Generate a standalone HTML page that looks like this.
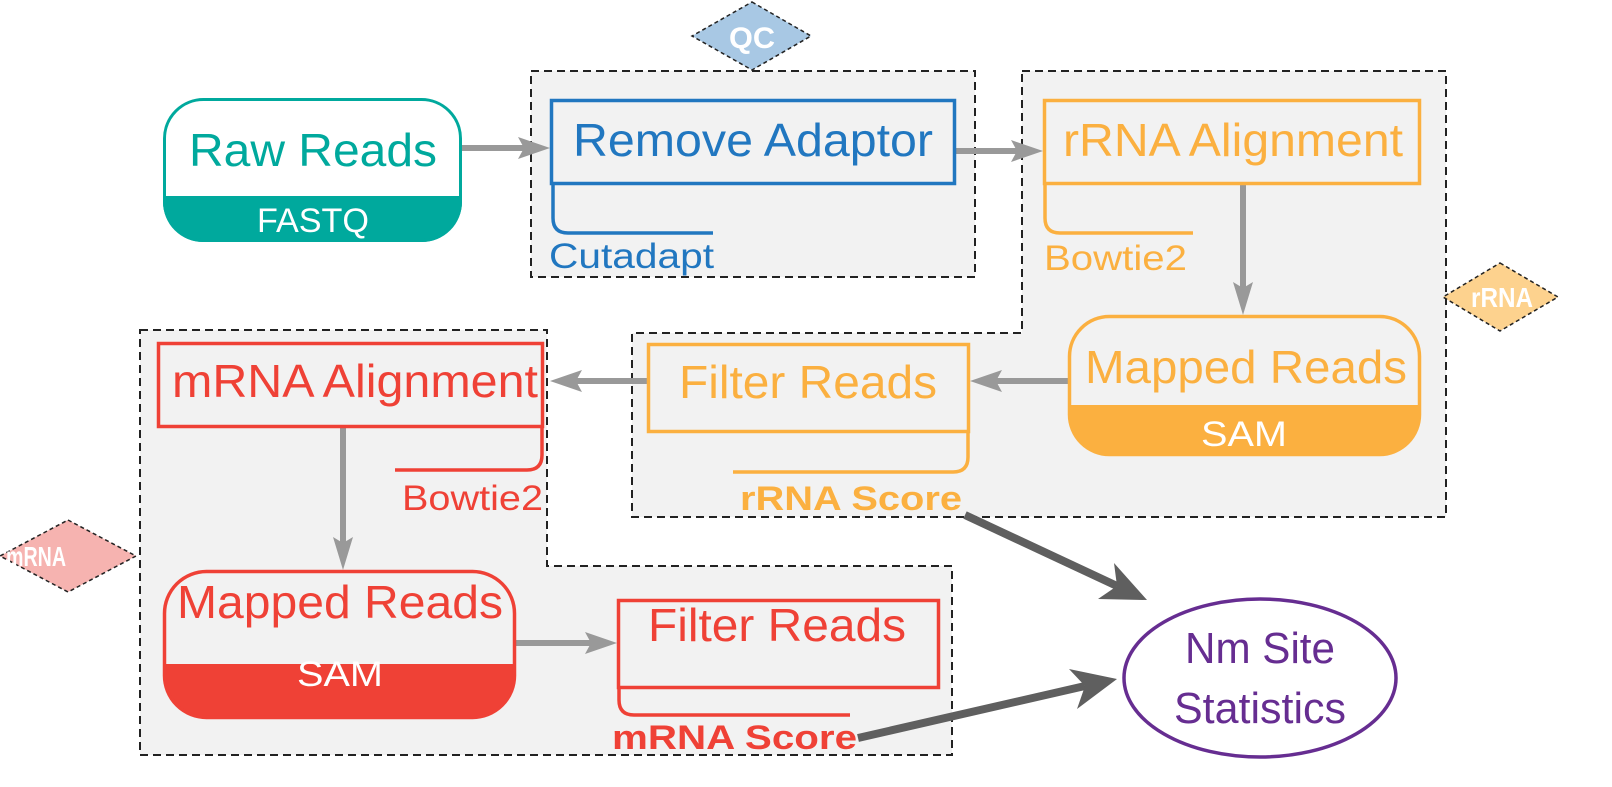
<!DOCTYPE html>
<html><head><meta charset="utf-8"><style>
html,body{margin:0;padding:0;background:#fff;}
svg{display:block;}
text{font-family:"Liberation Sans",sans-serif;}
</style></head><body>
<svg width="1612" height="787" viewBox="0 0 1612 787" xmlns="http://www.w3.org/2000/svg">
<!-- groups -->
<rect x="531" y="71" width="444" height="206" fill="#f2f2f2" stroke="#222" stroke-width="2" stroke-dasharray="8,5"/>
<path d="M1022,71 L1446,71 L1446,517 L632,517 L632,333 L1022,333 Z" fill="#f2f2f2" stroke="#222" stroke-width="2" stroke-dasharray="8,5"/>
<path d="M140,330 L547,330 L547,566 L952,566 L952,755 L140,755 Z" fill="#f2f2f2" stroke="#222" stroke-width="2" stroke-dasharray="8,5"/>
<!-- diamonds -->
<polygon points="752,2 811,36 752,70 692,36" fill="#a8c8e4" stroke="#222" stroke-width="1.5" stroke-dasharray="4,3"/>
<text x="752" y="48" font-size="30" font-weight="bold" fill="#fff" text-anchor="middle" textLength="46" lengthAdjust="spacingAndGlyphs">QC</text>
<polygon points="1500,263 1558,297 1500,331 1443,297" fill="#fdd28e" stroke="#222" stroke-width="1.5" stroke-dasharray="4,3"/>
<text x="1502" y="307" font-size="28" font-weight="bold" fill="#fff" text-anchor="middle" textLength="62" lengthAdjust="spacingAndGlyphs">rRNA</text>
<polygon points="68,520 136,556 68,592 0,556" fill="#f6b3b0" stroke="#222" stroke-width="1.5" stroke-dasharray="4,3"/>
<text x="36" y="566" font-size="28" font-weight="bold" fill="#fff" text-anchor="middle" textLength="60" lengthAdjust="spacingAndGlyphs">mRNA</text>

<!-- gray arrows -->
<g stroke="#999" stroke-width="6" fill="#999">
<line x1="462" y1="148" x2="525" y2="148"/>
<polygon points="550,148 518,137 524,148 518,159" stroke="none"/>
<line x1="955" y1="151" x2="1018" y2="151"/>
<polygon points="1043,151 1011,140 1017,151 1011,162" stroke="none"/>
<line x1="1243" y1="184" x2="1243" y2="290"/>
<polygon points="1243,315 1233,282 1243,288 1253,282" stroke="none"/>
<line x1="1068" y1="381" x2="995" y2="381"/>
<polygon points="970,381 1002,370 996,381 1002,392" stroke="none"/>
<line x1="647" y1="381" x2="575" y2="381"/>
<polygon points="550,381 582,370 576,381 582,392" stroke="none"/>
<line x1="343" y1="427" x2="343" y2="545"/>
<polygon points="343,570 333,537 343,543 353,537" stroke="none"/>
<line x1="515" y1="643" x2="592" y2="643"/>
<polygon points="617,643 585,632 591,643 585,654" stroke="none"/>
</g>

<!-- Raw Reads -->
<path d="M203,98 H422 A40,40 0 0 1 462,138 V196 H163 V138 A40,40 0 0 1 203,98 Z" fill="#fff"/>
<path d="M163,196 H462 V202 A40,40 0 0 1 422,242 H203 A40,40 0 0 1 163,202 Z" fill="#00a99d"/>
<rect x="164.5" y="99.5" width="296" height="141" rx="39" fill="none" stroke="#00a99d" stroke-width="3"/>
<text x="313" y="166" font-size="46" fill="#00a99d" text-anchor="middle" textLength="248" lengthAdjust="spacingAndGlyphs">Raw Reads</text>
<text x="313" y="232" font-size="34" fill="#fff" text-anchor="middle" textLength="112" lengthAdjust="spacingAndGlyphs">FASTQ</text>

<!-- Remove Adaptor -->
<rect x="551.5" y="100.5" width="403" height="83" fill="#f2f2f2" stroke="#2177c0" stroke-width="3.5"/>
<text x="753" y="156" font-size="46" fill="#2177c0" text-anchor="middle" textLength="360" lengthAdjust="spacingAndGlyphs">Remove Adaptor</text>
<path d="M553,185 V218 Q553,233 568,233 H713" fill="none" stroke="#2177c0" stroke-width="3.5"/>
<text x="549" y="268" font-size="35" fill="#2177c0" textLength="165" lengthAdjust="spacingAndGlyphs">Cutadapt</text>

<!-- rRNA Alignment -->
<rect x="1044.5" y="100.5" width="375" height="83" fill="#f2f2f2" stroke="#fbb040" stroke-width="3.5"/>
<text x="1233" y="156" font-size="46" fill="#fbb040" text-anchor="middle" textLength="340" lengthAdjust="spacingAndGlyphs">rRNA Alignment</text>
<path d="M1045,185 V218 Q1045,233 1060,233 H1193" fill="none" stroke="#fbb040" stroke-width="3.5"/>
<text x="1044" y="270" font-size="35" fill="#fbb040" textLength="143" lengthAdjust="spacingAndGlyphs">Bowtie2</text>

<!-- Mapped Reads rRNA -->
<path d="M1110,316 H1380 A40,40 0 0 1 1420,356 V405 H1069 V356 A40,40 0 0 1 1110,316 Z" fill="#f2f2f2"/>
<path d="M1069,405 H1420 V415 A40,40 0 0 1 1380,455 H1110 A40,40 0 0 1 1069,415 Z" fill="#fbb040"/>
<rect x="1069.5" y="316.5" width="350" height="138" rx="40" fill="none" stroke="#fbb040" stroke-width="3.5"/>
<text x="1246" y="383" font-size="46" fill="#fbb040" text-anchor="middle" textLength="322" lengthAdjust="spacingAndGlyphs">Mapped Reads</text>
<text x="1244" y="446" font-size="35" fill="#fff" text-anchor="middle" textLength="86" lengthAdjust="spacingAndGlyphs">SAM</text>

<!-- Filter Reads rRNA -->
<rect x="648.5" y="344.5" width="320" height="87" fill="#f2f2f2" stroke="#fbb040" stroke-width="3.5"/>
<text x="808" y="398" font-size="46" fill="#fbb040" text-anchor="middle" textLength="258" lengthAdjust="spacingAndGlyphs">Filter Reads</text>
<path d="M968,433 V457 Q968,472 953,472 H733" fill="none" stroke="#fbb040" stroke-width="3.5"/>
<text x="740" y="510" font-size="34" font-weight="bold" fill="#fbb040" textLength="222" lengthAdjust="spacingAndGlyphs">rRNA Score</text>

<!-- mRNA Alignment -->
<rect x="158.5" y="343.5" width="384" height="83" fill="#f2f2f2" stroke="#ef4136" stroke-width="3.5"/>
<text x="355" y="397" font-size="46" fill="#ef4136" text-anchor="middle" textLength="366" lengthAdjust="spacingAndGlyphs">mRNA Alignment</text>
<path d="M542,428 V455 Q542,470 527,470 H395" fill="none" stroke="#ef4136" stroke-width="3.5"/>
<text x="402" y="510" font-size="35" fill="#ef4136" textLength="141" lengthAdjust="spacingAndGlyphs">Bowtie2</text>

<!-- Mapped Reads mRNA -->
<path d="M205,571 H473 A42,42 0 0 1 515,613 V664 H164 V613 A42,42 0 0 1 205,571 Z" fill="#f2f2f2"/>
<path d="M164,664 H515 V676 A42,42 0 0 1 473,718 H205 A42,42 0 0 1 164,676 Z" fill="#ef4136"/>
<rect x="164.5" y="571.5" width="350" height="146" rx="42" fill="none" stroke="#ef4136" stroke-width="3.5"/>
<text x="340" y="618" font-size="46" fill="#ef4136" text-anchor="middle" textLength="326" lengthAdjust="spacingAndGlyphs">Mapped Reads</text>
<text x="340" y="686" font-size="35" fill="#fff" text-anchor="middle" textLength="86" lengthAdjust="spacingAndGlyphs">SAM</text>

<!-- Filter Reads mRNA -->
<rect x="618.5" y="600.5" width="320" height="87" fill="#f2f2f2" stroke="#ef4136" stroke-width="3.5"/>
<text x="777" y="641" font-size="46" fill="#ef4136" text-anchor="middle" textLength="258" lengthAdjust="spacingAndGlyphs">Filter Reads</text>
<path d="M619,689 V700 Q619,715 634,715 H850" fill="none" stroke="#ef4136" stroke-width="3.5"/>
<text x="612" y="749" font-size="34" font-weight="bold" fill="#ef4136" textLength="245" lengthAdjust="spacingAndGlyphs">mRNA Score</text>

<!-- dark arrows -->
<g fill="#5f5f5f" stroke="#5f5f5f">
<line x1="965" y1="515" x2="1117" y2="586" stroke-width="8"/>
<polygon points="1147,600 1114,563 1117,586 1098,599" stroke="none"/>
<line x1="858" y1="738" x2="1085" y2="686" stroke-width="8"/>
<polygon points="1117,679 1069,669 1085,686 1077,709" stroke="none"/>
</g>

<!-- Nm Site Statistics -->
<ellipse cx="1260" cy="678" rx="136" ry="79" fill="#fff" stroke="#662d91" stroke-width="3.5"/>
<text x="1260" y="663" font-size="44" fill="#662d91" text-anchor="middle" textLength="150" lengthAdjust="spacingAndGlyphs">Nm Site</text>
<text x="1260" y="723" font-size="44" fill="#662d91" text-anchor="middle" textLength="172" lengthAdjust="spacingAndGlyphs">Statistics</text>
</svg>
</body></html>
